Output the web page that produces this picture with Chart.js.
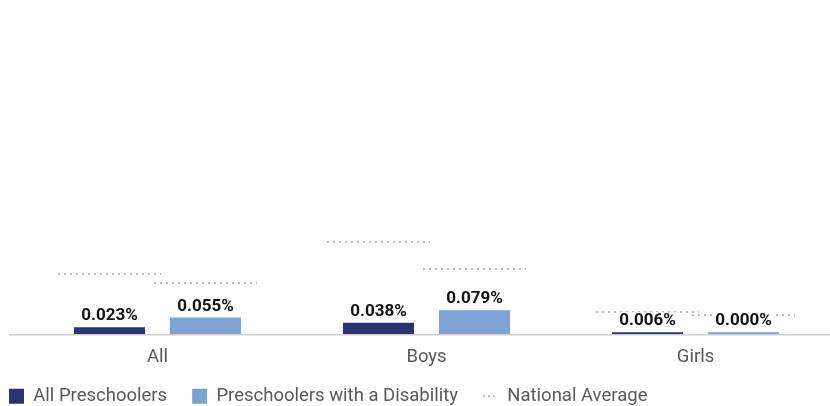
<!DOCTYPE html>
<html>
<head>
<meta charset="utf-8">
<script src="https://cdn.jsdelivr.net/npm/chart.js@4.4.0/dist/chart.umd.min.js"></script>
<style>
  html, body { margin: 0; padding: 0; background: #fff; overflow: hidden; }
  #wrap { width: 830px; height: 406px; }
</style>
</head>
<body>
<div id="wrap"><canvas id="preschoolChart"></canvas></div>
<script>
// data (percent)
const categories = ['All', 'Boys', 'Girls'];
const allPreschoolers = [0.023, 0.038, 0.006];
const withDisability = [0.055, 0.079, 0.000];
const nationalAll = [0.200, 0.305, 0.072];
const nationalDisability = [0.170, 0.215, 0.062];

Chart.defaults.font.family = 'Roboto';

// dotted national average segment over each bar + value labels
const barExtras = {
  id: 'barExtras',
  afterDatasetsDraw(chart) {
    const ctx = chart.ctx;
    const y = chart.scales.y;
    const natLists = [nationalAll, nationalDisability];

    // baseline
    ctx.save();
    ctx.strokeStyle = '#cfcfcf';
    ctx.lineWidth = 1.5;
    ctx.beginPath();
    ctx.moveTo(9, y.getPixelForValue(0) + 0.5);
    ctx.lineTo(chart.width, y.getPixelForValue(0) + 0.5);
    ctx.stroke();

    ctx.strokeStyle = '#bdbdbd';
    ctx.lineWidth = 2;
    ctx.setLineDash([2, 4]);
    [0, 1].forEach(d => {
      chart.getDatasetMeta(d).data.forEach((bar, i) => {
        const py = Math.round(y.getPixelForValue(natLists[d][i]));
        const half = bar.width * 0.725;
        ctx.beginPath();
        ctx.moveTo(bar.x - half, py);
        ctx.lineTo(bar.x + half, py);
        ctx.stroke();
      });
    });
    ctx.setLineDash([]);

    ctx.font = 'bold 17px Roboto';
    ctx.textAlign = 'center';
    ctx.textBaseline = 'alphabetic';
    [0, 1].forEach(d => {
      const vals = chart.data.datasets[d].data;
      chart.getDatasetMeta(d).data.forEach((bar, i) => {
        const txt = vals[i].toFixed(3) + '%';
        const w = ctx.measureText(txt).width;
        ctx.fillStyle = '#fff';
        ctx.fillRect(bar.x - w / 2 - 1, bar.y - 20, w + 2, 15);
        ctx.fillStyle = '#111';
        ctx.fillText(txt, bar.x, bar.y - 7);
      });
    });
    ctx.restore();
  }
};

// move the legend row to the left edge / bottom like the original
const legendPlace = {
  id: 'legendPlace',
  afterLayout(chart) {
    const lg = chart.legend;
    const pad = lg.options.labels.padding;
    const dx = 9 - (lg.left + pad);
    const dy = 387 - (lg.top + pad);
    lg.left += dx; lg.right += dx;
    lg.top += dy; lg.bottom += dy;
  }
};

new Chart(document.getElementById('preschoolChart'), {
  type: 'bar',
  data: {
    labels: categories,
    datasets: [{
      label: 'All Preschoolers',
      data: allPreschoolers,
      backgroundColor: '#283571',
      borderWidth: 0,
      minBarLength: 2,
      pointStyle: 'rect'
    }, {
      label: 'Preschoolers with a Disability',
      data: withDisability,
      backgroundColor: '#7ea2d4',
      borderWidth: 0,
      minBarLength: 2,
      pointStyle: 'rect'
    }, {
      type: 'line',
      label: 'National Average',
      data: [],
      borderColor: '#bdbdbd',
      backgroundColor: 'rgba(0,0,0,0)',
      borderWidth: 2,
      borderDash: [2, 3],
      pointStyle: 'line'
    }]
  },
  options: {
    responsive: true,
    maintainAspectRatio: false,
    animation: false,
    categoryPercentage: 0.714,
    barPercentage: 0.74,
    layout: { padding: { left: 23, right: 0, top: 0, bottom: -20 } },
    scales: {
      x: {
        grid: { display: false },
        border: { display: false },
        ticks: { color: '#595959', font: { size: 18.5 }, padding: 4 }
      },
      y: { display: false, min: 0, max: 1.1 }
    },
    plugins: {
      tooltip: { enabled: false },
      legend: {
        position: 'bottom',
        align: 'start',
        labels: {
          color: '#595959',
          font: { size: 18.5 },
          padding: 25,
          usePointStyle: true,
          boxWidth: 15,
          boxHeight: 15,
          pointStyleWidth: 15,
          generateLabels(chart) {
            return chart.data.datasets.map((ds, i) => ({
              text: ds.label,
              fillStyle: ds.backgroundColor,
              strokeStyle: ds.borderColor || ds.backgroundColor,
              lineWidth: ds.type === 'line' ? 2 : 0,
              lineDash: ds.borderDash || [],
              lineCap: 'butt',
              pointStyle: ds.pointStyle,
              fontColor: '#595959',
              hidden: false,
              datasetIndex: i
            }));
          }
        }
      }
    }
  },
  plugins: [barExtras, legendPlace]
});
</script>
</body>
</html>
